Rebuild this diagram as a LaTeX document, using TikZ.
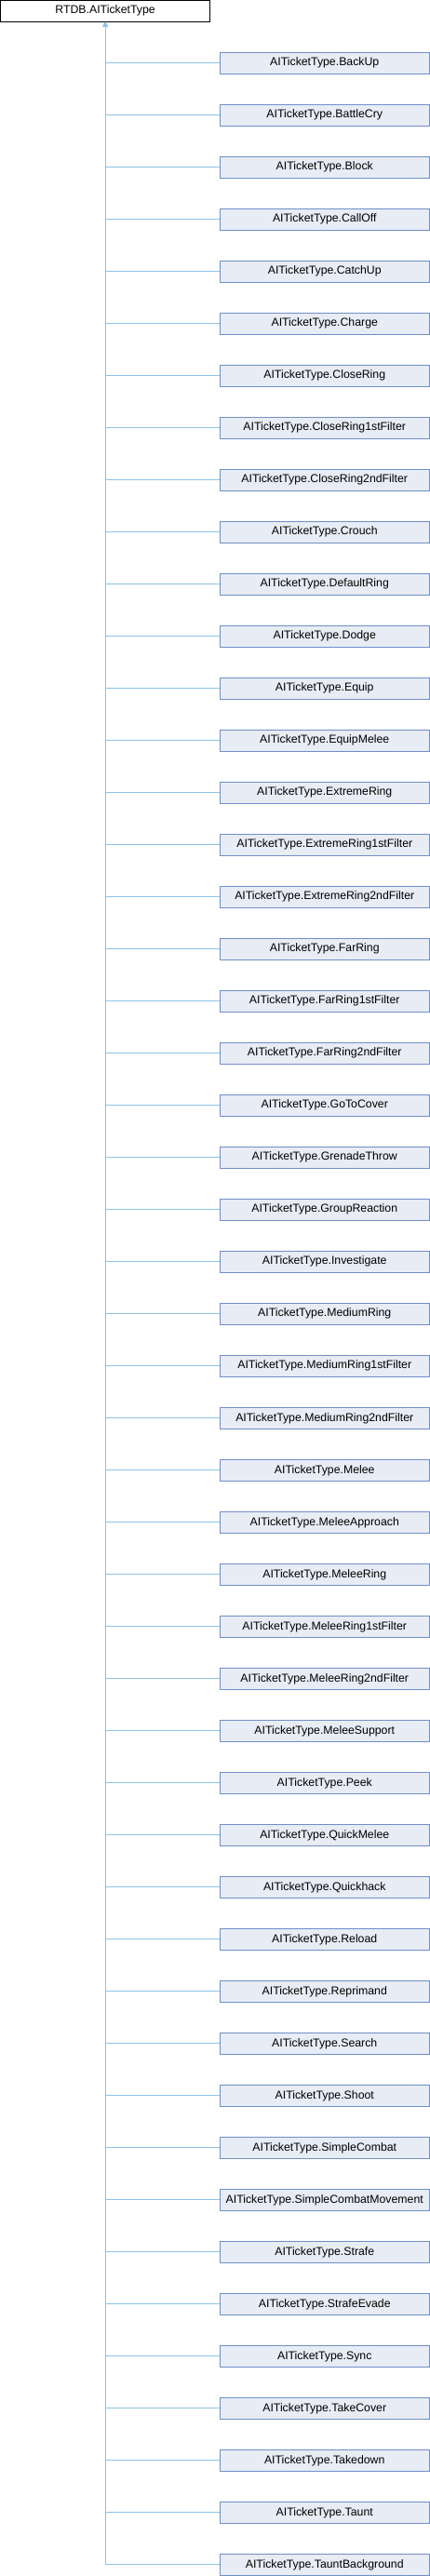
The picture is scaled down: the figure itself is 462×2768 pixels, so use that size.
\documentclass[tikz,border=0pt]{standalone}
\usepackage{fontspec}
\setmainfont{Liberation Sans}
\usetikzlibrary{arrows.meta}
\definecolor{edgeblue}{RGB}{140,196,232}
\definecolor{boxfill}{RGB}{232,236,245}
\definecolor{boxline}{RGB}{112,142,200}

\begin{document}
\begin{tikzpicture}[x=1pt, y=-1pt,
    box/.style={draw=boxline, fill=boxfill, line width=1pt, minimum width=225pt, minimum height=23pt, inner sep=0pt, font=\fontsize{12.3}{14}\selectfont},
    edge/.style={draw=edgeblue, line width=1pt, -{Triangle[width=5pt, length=5pt]}}]
    \useasboundingbox (0,0) rectangle (462,2768);

    \node[box, draw=black, fill=white] at (113.1, 11.8) (base) {RTDB.AITicketType};

    \foreach \name [count=\i from 0] in {BackUp, BattleCry, Block, CallOff, CatchUp, Charge, CloseRing, CloseRing1stFilter, CloseRing2ndFilter, Crouch, DefaultRing, Dodge, Equip, EquipMelee, ExtremeRing, ExtremeRing1stFilter, ExtremeRing2ndFilter, FarRing, FarRing1stFilter, FarRing2ndFilter, GoToCover, GrenadeThrow, GroupReaction, Investigate, MediumRing, MediumRing1stFilter, MediumRing2ndFilter, Melee, MeleeApproach, MeleeRing, MeleeRing1stFilter, MeleeRing2ndFilter, MeleeSupport, Peek, QuickMelee, Quickhack, Reload, Reprimand, Search, Shoot, SimpleCombat, SimpleCombatMovement, Strafe, StrafeEvade, Sync, TakeCover, Takedown, Taunt, TauntBackground} {
        \node[box] at (348.75, {67.8+56*\i}) (t\i) {AITicketType.\name};
        \draw[edge] (t\i.west) -| (base);
    }
\end{tikzpicture}
\end{document}
